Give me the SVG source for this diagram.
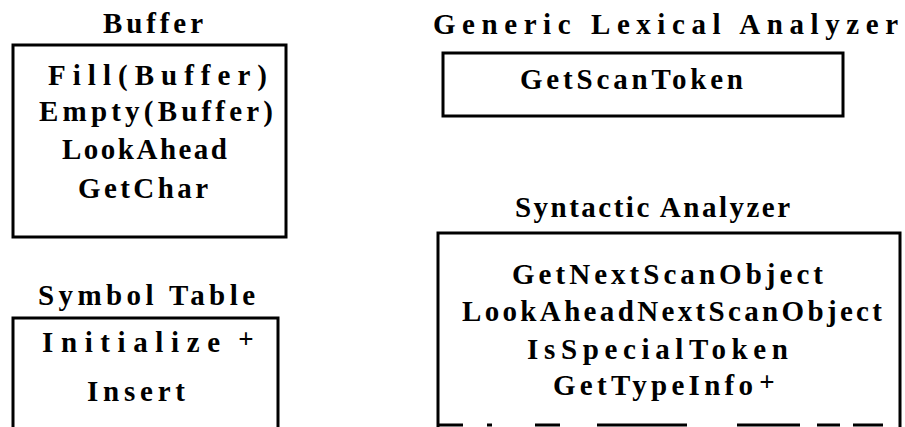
<svg xmlns="http://www.w3.org/2000/svg" width="905" height="427" viewBox="0 0 905 427">
<style>
  .t { font-family: "Liberation Serif", "Times New Roman", serif; font-weight: bold; font-size: 29px; fill: #000; }
  .sup { font-family: "Liberation Serif", "Times New Roman", serif; font-weight: bold; font-size: 27px; fill: #000; text-anchor: middle; }
  .box { fill: none; stroke: #000; stroke-width: 3; }
</style>
<rect width="905" height="427" fill="#fff"/>
<g id="buffer">
  <text class="t" x="103" y="33" textLength="100" lengthAdjust="spacing">Buffer</text>
  <rect class="box" x="13" y="45" width="273" height="192"/>
  <text class="t" x="48" y="85" textLength="219" lengthAdjust="spacing">Fill(Buffer)</text>
  <text class="t" x="39" y="121" textLength="234" lengthAdjust="spacing">Empty(Buffer)</text>
  <text class="t" x="62" y="159" textLength="165" lengthAdjust="spacing">LookAhead</text>
  <text class="t" x="78" y="198" textLength="130" lengthAdjust="spacing">GetChar</text>
</g>
<g id="symbol-table">
  <text class="t" x="38" y="305" textLength="217" lengthAdjust="spacing">Symbol Table</text>
  <path class="box" d="M13,430 V318 H278 V430"/>
  <text class="t" x="42" y="352" textLength="178" lengthAdjust="spacing">Initialize</text>
  <text class="sup" x="246" y="348">+</text>
  <text class="t" x="87" y="401" textLength="98" lengthAdjust="spacing">Insert</text>
</g>
<g id="generic-lexical-analyzer">
  <text class="t" x="433" y="34" textLength="465" lengthAdjust="spacing">Generic Lexical Analyzer</text>
  <rect class="box" x="443" y="53" width="400" height="63"/>
  <text class="t" x="520" y="89" textLength="223" lengthAdjust="spacing">GetScanToken</text>
</g>
<g id="syntactic-analyzer">
  <text class="t" x="515" y="217" textLength="275" lengthAdjust="spacing">Syntactic Analyzer</text>
  <path class="box" d="M438,427 V233 H900 V427"/>
  <path class="box" d="M438,425 H463 M487,425 H492 M535,425 H560 M597,425 H687 M737,425 H800 M817,425 H840 M853,425 H883"/>
  <text class="t" x="512" y="284" textLength="311" lengthAdjust="spacing">GetNextScanObject</text>
  <text class="t" x="462" y="321" textLength="420" lengthAdjust="spacing">LookAheadNextScanObject</text>
  <text class="t" x="527" y="359" textLength="261" lengthAdjust="spacing">IsSpecialToken</text>
  <text class="t" x="553" y="395" textLength="200" lengthAdjust="spacing">GetTypeInfo</text>
  <text class="sup" x="767" y="391">+</text>
</g>
<g id="connectors"></g>
</svg>
